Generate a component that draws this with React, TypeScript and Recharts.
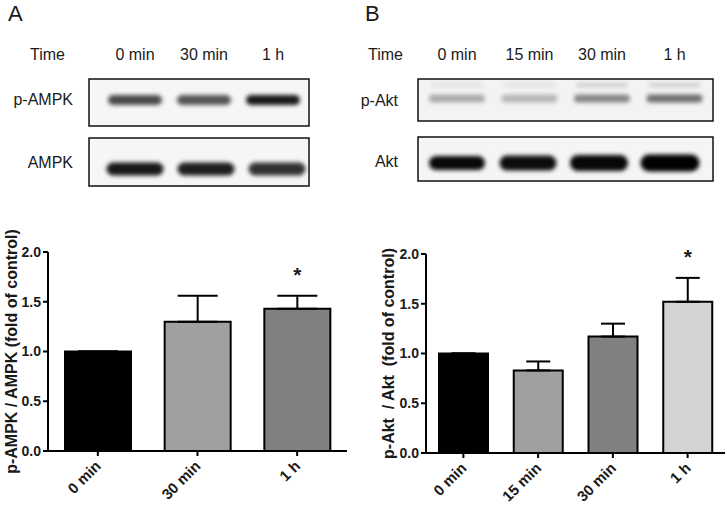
import React from "react";
import { BarChart, Bar, XAxis, YAxis, ErrorBar, LabelList, Cell, Label } from "recharts";

// Panel A
const timesA = ["0 min", "30 min", "1 h"];
const valuesA = [1.0, 1.3, 1.43];
const errorsA = [0, 0.26, 0.13];
const sigA = ["", "", "*"];
const colorsA = ["#000000", "#a0a0a0", "#808080"];

// Panel B
const timesB = ["0 min", "15 min", "30 min", "1 h"];
const valuesB = [1.0, 0.83, 1.17, 1.52];
const errorsB = [0, 0.09, 0.13, 0.24];
const sigB = ["", "", "", "*"];
const colorsB = ["#000000", "#a0a0a0", "#808080", "#d3d3d3"];

const yTicks = [0, 0.5, 1.0, 1.5, 2.0];

// blot band darkness, 0..1
const pAmpkBands = [0.7, 0.66, 0.9];
const ampkBands = [0.9, 0.88, 0.8];
const pAktBands = [0.3, 0.25, 0.45, 0.55];
const pAktUpper = [0.08, 0.08, 0.16, 0.16];
const aktBands = [0.97, 0.95, 0.97, 1.0];

const FONT = "'Liberation Sans', Arial, sans-serif";
const INK = "#1a1a1a";

const dataA = timesA.map((t, i) => ({ time: t, value: valuesA[i], err: [0, errorsA[i]], sig: sigA[i] }));
const dataB = timesB.map((t, i) => ({ time: t, value: valuesB[i], err: [0, errorsB[i]], sig: sigB[i] }));

const XTick = ({ x, y, payload }: any) => (
  <g transform={`translate(${x + 4},${y + 9})`}>
    <text textAnchor="end" transform="rotate(-45)" fontSize={15} fontWeight="bold" fill={INK} fontFamily={FONT}>
      {payload.value}
    </text>
  </g>
);

const starRenderer = (values: number[], errors: number[]) => (props: any) => {
  const { x, y, width, height, value, index } = props;
  if (!value) return null;
  const pxPerUnit = height / values[index];
  const top = y - errors[index] * pxPerUnit;
  return (
    <text x={x + width / 2} y={top - 14} textAnchor="middle" fontSize={21} fontWeight="bold" fill={INK} fontFamily={FONT}>
      {value}
    </text>
  );
};

const yLabel = (text: string, x: number) => (props: any) => {
  const vb = props.viewBox;
  const cy = vb.y + vb.height / 2;
  return (
    <text
      x={x}
      y={cy}
      transform={`rotate(-90, ${x}, ${cy})`}
      textAnchor="middle"
      dominantBaseline="central"
      fontSize={16}
      fontWeight="bold"
      fill={INK}
      fontFamily={FONT}
      style={{ whiteSpace: "pre" }}
    >
      {text}
    </text>
  );
};

const Band = ({ cx, cy, w, h, k }: { cx: number; cy: number; w: number; h: number; k: number }) => (
  <rect x={cx - w / 2} y={cy - h / 2} width={w} height={h} rx={h / 2} fill="#000" fillOpacity={k} filter="url(#blur)" />
);

function Blots() {
  const laneA = (i: number) => 135 + i * 69;
  const laneB = (i: number) => 457 + i * 72.5;
  const txt = { fontFamily: FONT, fontSize: 16, fill: INK };
  return (
    <svg width={727} height={200} style={{ position: "absolute", left: 0, top: 0 }}>
      <defs>
        <filter id="blur" x="-20%" y="-60%" width="140%" height="220%">
          <feGaussianBlur stdDeviation="2.2" />
        </filter>
      </defs>
      <text x={8} y={21} fontSize={22} fontFamily={FONT} fill={INK}>A</text>
      <text x={365} y={21} fontSize={22} fontFamily={FONT} fill={INK}>B</text>

      {/* panel A */}
      <text x={30} y={60} {...txt}>Time</text>
      {timesA.map((t, i) => (
        <text key={t} x={laneA(i)} y={60} textAnchor="middle" {...txt}>{t}</text>
      ))}
      <text x={73} y={105} textAnchor="end" {...txt}>p-AMPK</text>
      <text x={73} y={168} textAnchor="end" {...txt}>AMPK</text>
      <rect x={89} y={79} width={220} height={47} fill="#f6f6f6" stroke="#111" strokeWidth={1.5} />
      <rect x={89} y={138} width={220} height={48} fill="#f6f6f6" stroke="#111" strokeWidth={1.5} />
      {pAmpkBands.map((k, i) => (
        <Band key={"pa" + i} cx={laneA(i)} cy={100} w={54} h={10} k={k} />
      ))}
      {ampkBands.map((k, i) => (
        <Band key={"a" + i} cx={laneA(i) + i * 2} cy={169} w={57} h={13} k={k} />
      ))}

      {/* panel B */}
      <text x={368} y={60} {...txt}>Time</text>
      {timesB.map((t, i) => (
        <text key={t} x={laneB(i)} y={60} textAnchor="middle" {...txt}>{t}</text>
      ))}
      <text x={398} y={106} textAnchor="end" {...txt}>p-Akt</text>
      <text x={398} y={167} textAnchor="end" {...txt}>Akt</text>
      <rect x={418} y={79} width={295} height={42} fill="#f3f3f3" stroke="#111" strokeWidth={1.5} />
      <rect x={418} y={137} width={295} height={44} fill="#f5f5f5" stroke="#111" strokeWidth={1.5} />
      {pAktUpper.map((k, i) => (
        <Band key={"pu" + i} cx={laneB(i)} cy={85} w={52} h={4} k={k} />
      ))}
      {pAktBands.map((k, i) => (
        <Band key={"pk" + i} cx={laneB(i)} cy={98.5} w={56} h={8} k={k} />
      ))}
      {aktBands.map((k, i) => (
        <Band key={"k" + i} cx={laneB(i) - i * 1.5} cy={163} w={56 + i} h={14 + i} k={k} />
      ))}
    </svg>
  );
}

export default function App() {
  const axisStroke = { stroke: "#000", strokeWidth: 2 };
  const yTick = { fontSize: 14, fontWeight: "bold", fill: INK, fontFamily: FONT };
  return (
    <div style={{ position: "absolute", left: 0, top: 0, width: 727, height: 510, background: "#fff" }}>
      <div style={{ position: "absolute", left: 0, top: 0 }}>
        <BarChart width={363} height={510} data={dataA} margin={{ top: 252, right: 16, left: 0, bottom: 0 }}>
          <XAxis dataKey="time" height={59} tick={<XTick />} tickSize={5} axisLine={axisStroke} tickLine={axisStroke} interval={0} />
          <YAxis
            width={48}
            domain={[0, 2]}
            ticks={yTicks}
            tickFormatter={(v: number) => v.toFixed(1)}
            tick={yTick}
            tickSize={5}
            tickMargin={2}
            axisLine={axisStroke}
            tickLine={axisStroke}
          >
            <Label content={yLabel("p-AMPK / AMPK (fold of control)", 11)} />
          </YAxis>
          <Bar dataKey="value" barSize={66} stroke="#000" strokeWidth={2} isAnimationActive={false}>
            {colorsA.map((c, i) => (
              <Cell key={i} fill={c} />
            ))}
            <ErrorBar dataKey="err" width={20} stroke="#000" strokeWidth={2} direction="y" isAnimationActive={false} />
            <LabelList dataKey="sig" content={starRenderer(valuesA, errorsA)} />
          </Bar>
        </BarChart>
      </div>
      <div style={{ position: "absolute", left: 363, top: 0 }}>
        <BarChart width={364} height={510} data={dataB} margin={{ top: 254, right: 2, left: 0, bottom: 0 }}>
          <XAxis dataKey="time" height={57} tick={<XTick />} tickSize={5} axisLine={axisStroke} tickLine={axisStroke} interval={0} />
          <YAxis
            width={63}
            domain={[0, 2]}
            ticks={yTicks}
            tickFormatter={(v: number) => v.toFixed(1)}
            tick={yTick}
            tickSize={5}
            tickMargin={2}
            axisLine={axisStroke}
            tickLine={axisStroke}
          >
            <Label content={yLabel("p-Akt  / Akt  (fold of control)", 25)} />
          </YAxis>
          <Bar dataKey="value" barSize={49} stroke="#000" strokeWidth={2} isAnimationActive={false}>
            {colorsB.map((c, i) => (
              <Cell key={i} fill={c} />
            ))}
            <ErrorBar dataKey="err" width={12} stroke="#000" strokeWidth={2} direction="y" isAnimationActive={false} />
            <LabelList dataKey="sig" content={starRenderer(valuesB, errorsB)} />
          </Bar>
        </BarChart>
      </div>
      <Blots />
    </div>
  );
}
